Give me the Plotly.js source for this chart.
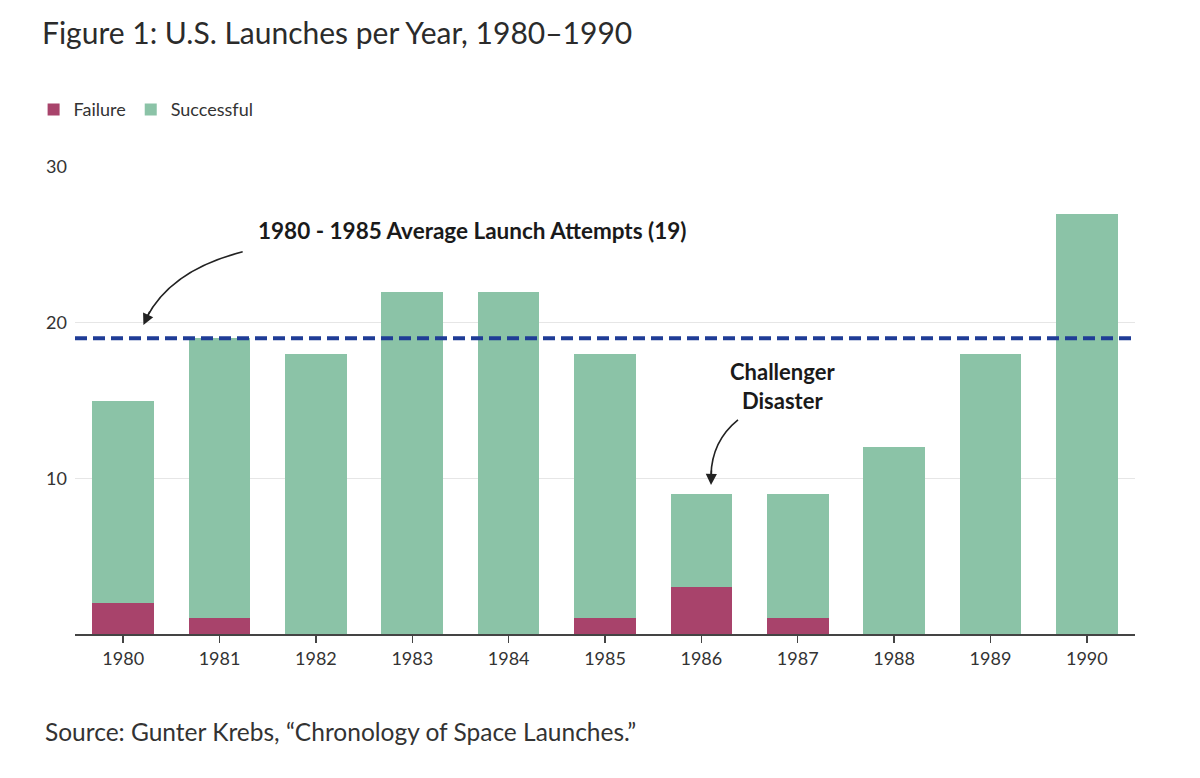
<!DOCTYPE html>
<html>
<head>
<meta charset="utf-8">
<script src="https://cdn.plot.ly/plotly-3.0.1.min.js"></script>
<style>
  html, body { margin: 0; padding: 0; background: #fff; }
  #chart { width: 1200px; height: 778px; }
</style>
</head>
<body>
<div id="chart"></div>
<script>
const years = [1980, 1981, 1982, 1983, 1984, 1985, 1986, 1987, 1988, 1989, 1990];
const failures = [2, 1, 0, 0, 0, 1, 3, 1, 0, 0, 0];
const successes = [13, 18, 18, 22, 22, 17, 6, 8, 12, 18, 27];
const avgAttempts = 19;
const yTicks = [10, 20, 30];

const FONT = 'Lato, "Open Sans", sans-serif';

const traces = [
  {
    x: years, y: failures, name: 'Failure', type: 'bar',
    marker: { color: '#a8436b' }, hoverinfo: 'skip'
  },
  {
    x: years, y: successes, name: 'Successful', type: 'bar',
    marker: { color: '#8bc3a7' }, hoverinfo: 'skip'
  }
];

const layout = {
  width: 1200, height: 778,
  margin: { l: 75, r: 65, t: 167, b: 144 },
  paper_bgcolor: '#fff', plot_bgcolor: '#fff',
  font: { family: FONT, color: '#333', size: 18 },
  barmode: 'stack',
  bargap: 0.36,
  showlegend: true,
  title: {
    text: 'Figure 1: U.S. Launches per Year, 1980\u20131990',
    font: { family: FONT, size: 30, color: '#2b2b2b' },
    xref: 'container', x: 0.035, xanchor: 'left',
    yref: 'container', y: 0.957, yanchor: 'middle'
  },
  legend: {
    orientation: 'h', traceorder: 'normal',
    xref: 'container', x: 0.028, xanchor: 'left',
    yref: 'container', y: 0.859, yanchor: 'middle',
    font: { size: 18, color: '#333' }
  },
  xaxis: {
    type: 'linear', range: [1979.5, 1990.5],
    tickvals: years, ticktext: years.map(String),
    showgrid: false, zeroline: false,
    showline: true, linecolor: '#444', linewidth: 2,
    ticks: 'outside', ticklen: 7, tickcolor: '#444', tickwidth: 1.5,
    tickfont: { size: 18, color: '#333' },
    fixedrange: true
  },
  yaxis: {
    range: [0, 30], tickvals: yTicks,
    showgrid: true, gridcolor: '#e6e6e6', gridwidth: 1.5,
    zeroline: false, showline: false,
    ticks: '', ticklabelstandoff: 7,
    tickfont: { size: 18, color: '#333' },
    fixedrange: true
  },
  shapes: [
    {
      type: 'line', xref: 'paper', x0: 0, x1: 1, yref: 'y', y0: avgAttempts, y1: avgAttempts,
      line: { color: '#1f3c96', width: 4, dash: '12px,6px' }, layer: 'above'
    },
    {
      type: 'path', xref: 'x', yref: 'y',
      path: 'M1981.24,24.55 Q1980.50,23.4 1980.24,20.3',
      line: { color: '#222', width: 1.6 }
    },
    {
      type: 'path', xref: 'x', yref: 'y',
      path: 'M1986.38,13.75 Q1986.11,12.4 1986.10,10.2',
      line: { color: '#222', width: 1.6 }
    }
  ],
  annotations: [
    {
      text: '<b>1980 - 1985 Average Launch Attempts (19)</b>',
      xref: 'x', yref: 'y', x: 1983.62, y: 25.9,
      showarrow: false, font: { size: 22.5, color: '#1a1a1a' }
    },
    {
      text: '<b>Challenger<br>Disaster</b>',
      xref: 'x', yref: 'y', x: 1986.84, y: 15.95,
      showarrow: false, font: { size: 22, color: '#1a1a1a' }, align: 'center'
    },
    {
      xref: 'x', yref: 'y', x: 1980.21, y: 19.85, text: '',
      showarrow: true, arrowhead: 2, arrowsize: 1.4, arrowwidth: 1.6, arrowcolor: '#222',
      ax: 7, ay: -15
    },
    {
      xref: 'x', yref: 'y', x: 1986.10, y: 9.57, text: '',
      showarrow: true, arrowhead: 2, arrowsize: 1.4, arrowwidth: 1.6, arrowcolor: '#222',
      ax: 0.5, ay: -16
    },
    {
      text: 'Source: Gunter Krebs, \u201cChronology of Space Launches.\u201d',
      xref: 'paper', yref: 'paper', x: -0.03, y: -0.208,
      xanchor: 'left', yanchor: 'middle', showarrow: false,
      font: { size: 24.5, color: '#333' }
    }
  ]
};

Plotly.newPlot('chart', traces, layout, { displayModeBar: false, staticPlot: true });
</script>
</body>
</html>
